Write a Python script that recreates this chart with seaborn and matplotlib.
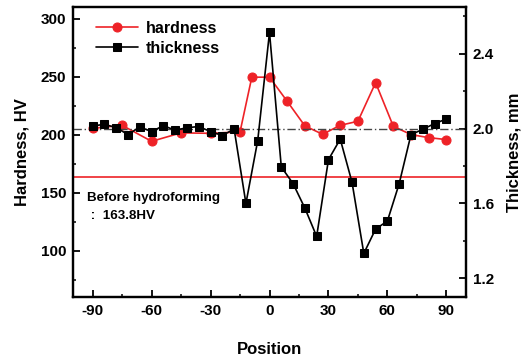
import matplotlib
matplotlib.use("Agg")
import matplotlib.pyplot as plt
from matplotlib.ticker import MultipleLocator
import seaborn as sns
import pandas as pd

# ---- data ----
hard_pos = [-90, -75, -60, -45, -30, -15, -9, 0, 9, 18, 27, 36, 45, 54, 63, 72, 81, 90]
hard_val = [205.4, 208.0, 194.2, 201.5, 201.1, 202.3, 249.5, 249.5, 228.7, 207.5,
            200.3, 208.0, 211.5, 244.8, 207.2, 200.0, 197.4, 195.7]
thick_pos = list(range(-90, 91, 6))
thick_val = [2.014, 2.023, 2.005, 1.968, 2.009, 1.984, 2.016, 1.991, 2.005, 2.011,
             1.984, 1.963, 1.998, 1.600, 1.936, 2.514, 1.795, 1.706, 1.575, 1.424,
             1.834, 1.944, 1.713, 1.333, 1.463, 1.506, 1.706, 1.968, 1.996, 2.027, 2.051]
before_hv = 163.8
ref_thick = 2.0
x_ticks = [-90, -60, -30, 0, 30, 60, 90]
left_ticks = [100, 150, 200, 250, 300]
right_ticks = [1.2, 1.6, 2.0, 2.4]

hard_df = pd.DataFrame({"Position": hard_pos, "hardness": hard_val})
thick_df = pd.DataFrame({"Position": thick_pos, "thickness": thick_val})

sns.set_style("ticks")
plt.rcParams["font.family"] = ["Liberation Sans", "DejaVu Sans"]
plt.rcParams["font.weight"] = "bold"
plt.rcParams["axes.labelweight"] = "bold"
plt.rcParams["axes.unicode_minus"] = False
plt.rcParams["text.color"] = "black"
plt.rcParams["axes.labelcolor"] = "black"
plt.rcParams["xtick.color"] = "black"
plt.rcParams["ytick.color"] = "black"

RED = "#ee2227"

fig = plt.figure(figsize=(5.23, 3.62), dpi=100)
ax = fig.add_axes([73/523, 1-297/362, (466-73)/523, (297-7)/362])
ax2 = ax.twinx()

sns.lineplot(data=hard_df, x="Position", y="hardness", ax=ax, color=RED,
             marker="o", markersize=6.5, markeredgecolor=RED, linewidth=1.2,
             label="hardness", legend=False)
ax.axhline(before_hv, color=RED, linewidth=1.2, zorder=1)

sns.lineplot(data=thick_df, x="Position", y="thickness", ax=ax2, color="black",
             marker="s", markersize=5.5, markeredgecolor="black", linewidth=1.2,
             label="thickness", legend=False)
ax2.axhline(ref_thick, color="#444444", linewidth=1.0, linestyle=(0, (6, 2, 1, 2)), zorder=1)

ax.set_xlim(-100, 100)
ax.set_ylim(60, 310)
ax2.set_ylim(1.1, 2.65)

ax.set_xticks(x_ticks)
ax.xaxis.set_minor_locator(MultipleLocator(15))
ax.set_yticks(left_ticks)
ax.yaxis.set_minor_locator(MultipleLocator(25))
ax2.set_yticks(right_ticks)
ax2.set_yticklabels([f"{v:.1f}" for v in right_ticks])
ax2.yaxis.set_minor_locator(MultipleLocator(0.2))

for a in (ax, ax2):
    for s in a.spines.values():
        s.set_linewidth(1.6)
        s.set_color("black")
    a.tick_params(which="major", direction="in", length=5, width=1.3, labelsize=11, pad=5,
                  colors="black")
    a.tick_params(which="minor", direction="in", length=2.5, width=1.1, colors="black")
ax.tick_params(axis="y", which="both", right=False)
ax.tick_params(axis="x", which="both", top=False)

ax.set_xlabel("Position", fontsize=12, fontweight="bold", labelpad=17, color="black")
ax.set_ylabel("Hardness, HV", fontsize=12, fontweight="bold", labelpad=8, color="black")
ax2.set_ylabel("Thickness, mm", fontsize=12, fontweight="bold", labelpad=9, color="black")

ax.text(-93, 145, "Before hydroforming", fontsize=9.6, fontweight="bold", ha="left", va="center",
        color="black")
ax.text(-93, 130, " :  163.8HV", fontsize=9.6, fontweight="bold", ha="left", va="center",
        color="black")

h1, l1 = ax.get_legend_handles_labels()
h2, l2 = ax2.get_legend_handles_labels()
leg = ax2.legend(h1 + h2, l1 + l2, loc="upper left", bbox_to_anchor=(0.035, 0.985),
                 frameon=False, fontsize=11.5, handlelength=2.6, handletextpad=0.5,
                 labelspacing=0.3, borderaxespad=0.2)
for t in leg.get_texts():
    t.set_color("black")

fig.savefig("out.png", dpi=100)
